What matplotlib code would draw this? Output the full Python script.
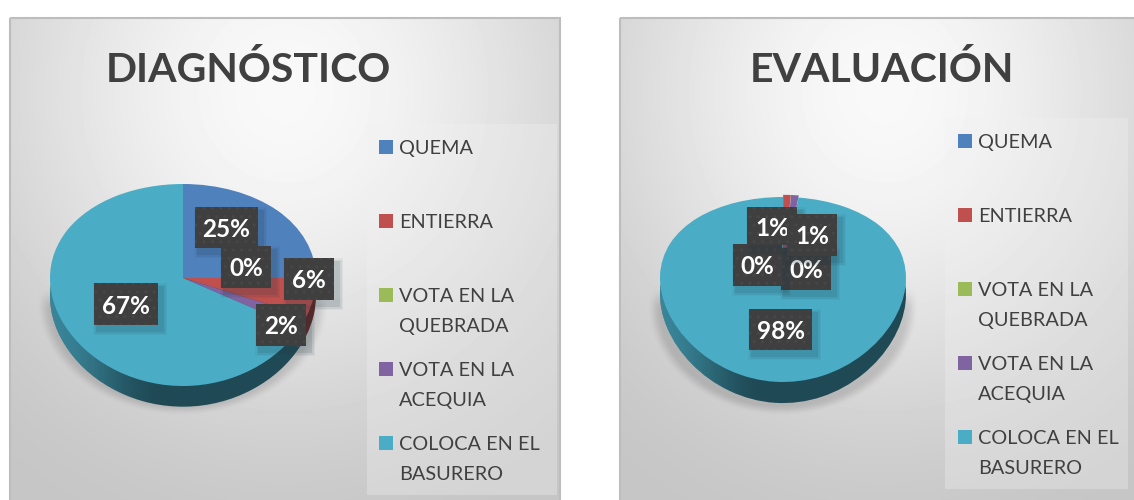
import numpy as np
import matplotlib
matplotlib.use('Agg')
import matplotlib.pyplot as plt
from matplotlib.patches import Circle, Rectangle
from matplotlib.colors import to_rgb

W, H = 1134, 500

categories = ['QUEMA', 'ENTIERRA', 'VOTA EN LA\nQUEBRADA', 'VOTA EN LA\nACEQUIA',
              'COLOCA EN EL\nBASURERO']
diagnostico = [25, 6, 0, 2, 67]
evaluacion = [0, 1, 0, 1, 98]
colors = ['#4f81bd', '#c0504d', '#9bbb59', '#8064a2', '#4bacc6']
dark_colors = ['#27405e', '#5f2725', '#4d5d2c', '#403251', '#1f4a55']

plt.rcParams['font.family'] = ['Lato', 'DejaVu Sans']

fig = plt.figure(figsize=(W / 100, H / 100), dpi=100, facecolor='white')

# everything that is not a pie goes on pixel-coordinate axes
bg = fig.add_axes([0, 0, 1, 1], zorder=0)
fg = fig.add_axes([0, 0, 1, 1], zorder=2)
for a in (bg, fg):
    a.set_xlim(0, W)
    a.set_ylim(H, 0)
    a.axis('off')
fg.patch.set_alpha(0)


def smooth(v):
    v = np.clip(v, 0, 1)
    return v * v * (3 - 2 * v)


def draw_panel(box, legend_box, shadow):
    x0, x1, y0, y1 = box
    xx, yy = np.meshgrid(np.arange(x0, x1) + 0.5, np.arange(y0, y1) + 0.5)
    u = (xx - x0) / (x1 - x0)
    v = (yy - y0) / (y1 - y0)
    # light spot upper middle, darker to the corners
    d = np.sqrt(((u - 0.5) / 0.85) ** 2 + ((v - 0.15) / 1.0) ** 2)
    grey = 0.975 - 0.2 * smooth(d)

    # soft shadow of the pie, only seen around the lower rim
    cx, cy, rx, ry = shadow
    r = np.sqrt(((xx - cx) / rx) ** 2 + ((yy - cy) / ry) ** 2)
    sh = smooth((1 - r) / 0.1) * smooth((yy - 285) / 25)
    grey = grey - 0.12 * sh

    bg.imshow(grey, extent=(x0, x1, y1, y0), cmap='gray', vmin=0, vmax=1,
              interpolation='bilinear', aspect='auto', zorder=1)
    bg.add_patch(Rectangle((x0, y0), x1 - x0, y1 - y0, fill=False,
                           ec='#bdbdbd', lw=1.5, zorder=2))

    lx0, lx1, ly0, ly1 = legend_box
    fg.add_patch(Rectangle((lx0, ly0), lx1 - lx0, ly1 - ly0, fc='#f2f2f2',
                           alpha=0.32, lw=0, zorder=1))
    bg.set_xlim(0, W)
    bg.set_ylim(H, 0)


def draw_pie(values, cx, vy, rx, top, bottom, depth, explode=0.0):
    # the top face is seen in perspective, so the hub sits above the middle
    up = vy - top
    down = bottom - vy
    k = (down - up) / (down + up)
    s = up * (1 + k)

    def forward(y):
        return y / (1 + k * y)

    def inverse(y):
        return y / (1 - k * y)

    px0, px1, py0, py1 = cx - rx - 30, cx + rx + 30, top - 30, bottom + depth + 30
    ax = fig.add_axes([px0 / W, 1 - py1 / H, (px1 - px0) / W, (py1 - py0) / H], zorder=1)
    ax.patch.set_alpha(0)

    off = depth / down
    side, _ = ax.pie(values, colors=dark_colors, startangle=90, counterclock=False,
                     center=(0, -off), radius=1, wedgeprops={'linewidth': 0})
    face, _ = ax.pie(values, colors=colors, startangle=90, counterclock=False,
                     explode=[explode if 0 < v < 50 else 0 for v in values],
                     wedgeprops={'linewidth': 0})
    for w in side:
        w.set_zorder(0.2)
    for w in face:
        w.set_zorder(1)

    # lighter side wall towards the left
    ramp = np.zeros((2, 256, 4))
    ramp[..., :3] = to_rgb('#4bacc6')
    ramp[..., 3] = 0.6 * (1 - smooth(np.linspace(0, 1, 256) / 0.42))
    img = ax.imshow(ramp, extent=(-1, 1, -off - 1.1, 0), aspect='auto', zorder=0.5,
                    interpolation='bilinear')
    img.set_clip_path(Circle((0, -off), 1, transform=ax.transData))

    ax.set_aspect('auto')
    ax.set_yscale('function', functions=(forward, inverse))
    ax.set_xlim((px0 - cx) / rx, (px1 - cx) / rx)
    ax.set_ylim(inverse((vy - py1) / s), inverse((vy - py0) / s))
    ax.axis('off')
    return ax


def draw_labels(values, boxes):
    # drawn in list order, later boxes lie over earlier ones
    for n, i in enumerate(boxes):
        x0, x1, y0, y1 = boxes[i]
        z = 5 + n
        for g, a in ((5, 0.05), (3.5, 0.08), (2, 0.12)):
            fg.add_patch(Rectangle((x0 + 4 - g, y0 + 5 - g), x1 - x0 + 2 * g, y1 - y0 + 2 * g,
                                   fc='#1f3b44', alpha=a, lw=0, zorder=z))
        fg.add_patch(Rectangle((x0, y0), x1 - x0, y1 - y0, fc='#3f3f3f', ec='#474747',
                               hatch='..', lw=0, zorder=z))
        fg.text((x0 + x1) / 2, (y0 + y1) / 2, f'{values[i]}%', color='white', fontsize=17.5,
                fontweight='bold', ha='center', va='center_baseline', zorder=z)


def draw_legend(x, y):
    for i, (name, c) in enumerate(zip(categories, colors)):
        yy = y + 74 * i
        fg.add_patch(Rectangle((x, yy - 7), 14, 14, fc=c, lw=0, zorder=3))
        for j, line in enumerate(name.split('\n')):
            fg.text(x + 20, yy + 30 * j, line, color='#404040', fontsize=14.3,
                    ha='left', va='center_baseline', zorder=3)


# left chart
draw_panel((10, 560, 18, 510), (367, 557, 124, 495), (183, 300, 147, 116))
draw_pie(diagnostico, 183, 278, 133, 184, 386, 19)
draw_legend(379, 147)
fg.text(248, 67, 'DIAGNÓSTICO', color='#404040', fontsize=29.5, fontweight='bold',
        ha='center', va='center_baseline')
draw_labels(diagnostico, {0: (195, 258, 207, 248), 2: (221, 271, 246, 288),
                          1: (284, 334, 258, 300), 3: (256, 306, 304, 346),
                          4: (94, 158, 283, 325)})

# right chart
draw_panel((620, 1150, 18, 510), (945, 1128, 118, 489), (783, 305, 136, 111))
draw_pie(evaluacion, 783, 278, 123, 197, 382, 18, explode=0.03)
draw_legend(958, 141)
fg.text(882, 67, 'EVALUACIÓN', color='#404040', fontsize=29.5, fontweight='bold',
        ha='center', va='center_baseline')
# each percentage has its own box; the two 0% ones go under the 1% ones
draw_labels(evaluacion, {4: (749, 812, 309, 350), 2: (781, 831, 248, 290),
                         0: (733, 782, 244, 286), 1: (747, 797, 207, 245),
                         3: (787, 837, 214, 256)})

fig.savefig('out.png', dpi=100)
